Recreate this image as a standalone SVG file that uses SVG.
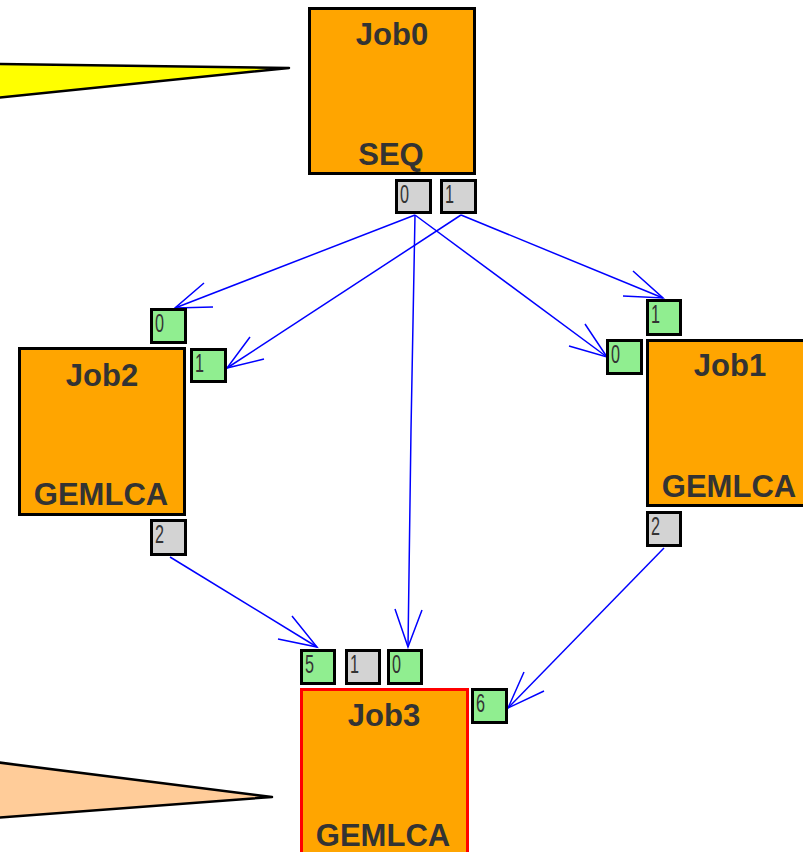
<svg xmlns="http://www.w3.org/2000/svg" width="803" height="852" viewBox="0 0 803 852">
<style>
.job{fill:#FFA500;stroke:#000;stroke-width:3}
.job3{fill:#FFA500;stroke:#FF0000;stroke-width:3}
.jt{font-family:"Liberation Sans",Arial,sans-serif;font-weight:bold;font-size:31px;fill:#333;text-anchor:middle}
.pg{fill:#D3D3D3;stroke:#000;stroke-width:3}
.pn{fill:#90EE90;stroke:#000;stroke-width:3}
.pt{font-family:"Liberation Sans",Arial,sans-serif;font-size:25px;fill:#333}
.c line,.c polyline{stroke:#0000FF;stroke-width:1.5;fill:none}
</style>
<polygon points="-5,64 289,68 -5,98" fill="#FFFF00" stroke="#000" stroke-width="2.5" stroke-linejoin="round"/>
<polygon points="-5,762 272,797 -5,818" fill="#FFCC99" stroke="#000" stroke-width="2.5" stroke-linejoin="round"/>
<g class="c" id="connectors">
<line x1="415" y1="215" x2="175" y2="308"/><polyline points="204,283 175,308 213,307"/>
<line x1="461" y1="215" x2="227" y2="368"/><polyline points="250,337 227,368 264,359"/>
<line x1="415" y1="215" x2="607" y2="357"/><polyline points="585,324 607,357 569,346"/>
<line x1="461" y1="215" x2="663" y2="298"/><polyline points="633,271 663,298 623,296"/>
<polyline points="415,215 411,430 408,647"/><polyline points="395,609 408,647 422,610"/>
<line x1="170" y1="557" x2="317" y2="647"/><polyline points="292,616 317,647 278,639"/>
<line x1="664" y1="548" x2="508" y2="708"/><polyline points="544,691 508,708 524,672"/>
</g>
<g id="job0">
<rect class="job" x="309.5" y="8.5" width="165" height="165"/>
<text class="jt" x="392" y="45">Job0</text>
<text class="jt" x="391" y="165">SEQ</text>
<rect class="pg" x="396.5" y="180.5" width="34" height="32"/><text class="pt" x="400" y="203" textLength="9" lengthAdjust="spacingAndGlyphs">0</text>
<rect class="pg" x="441.5" y="180.5" width="34" height="32"/><text class="pt" x="445" y="203" textLength="9" lengthAdjust="spacingAndGlyphs">1</text>
</g>
<g id="job2">
<rect class="job" x="19.5" y="348.5" width="165" height="166"/>
<text class="jt" x="102" y="386">Job2</text>
<text class="jt" x="101" y="505">GEMLCA</text>
<rect class="pn" x="151.5" y="309.5" width="34" height="33"/><text class="pt" x="155" y="332" textLength="9" lengthAdjust="spacingAndGlyphs">0</text>
<rect class="pn" x="191.5" y="349.5" width="34" height="32"/><text class="pt" x="195" y="372" textLength="9" lengthAdjust="spacingAndGlyphs">1</text>
<rect class="pg" x="151.5" y="520.5" width="34" height="34"/><text class="pt" x="155" y="543" textLength="9" lengthAdjust="spacingAndGlyphs">2</text>
</g>
<g id="job1">
<rect class="job" x="647.5" y="340.5" width="165" height="165"/>
<text class="jt" x="730" y="376">Job1</text>
<text class="jt" x="729" y="497">GEMLCA</text>
<rect class="pn" x="647.5" y="300.5" width="33" height="34"/><text class="pt" x="651" y="323" textLength="9" lengthAdjust="spacingAndGlyphs">1</text>
<rect class="pn" x="607.5" y="340.5" width="34" height="33"/><text class="pt" x="611" y="363" textLength="9" lengthAdjust="spacingAndGlyphs">0</text>
<rect class="pg" x="647.5" y="512.5" width="33" height="33"/><text class="pt" x="651" y="535" textLength="9" lengthAdjust="spacingAndGlyphs">2</text>
</g>
<g id="job3">
<rect class="job3" x="301.5" y="689.5" width="166" height="170"/>
<text class="jt" x="384" y="726">Job3</text>
<text class="jt" x="383" y="846">GEMLCA</text>
<rect class="pn" x="301.5" y="650.5" width="33" height="33"/><text class="pt" x="305" y="673" textLength="9" lengthAdjust="spacingAndGlyphs">5</text>
<rect class="pg" x="346.5" y="650.5" width="33" height="33"/><text class="pt" x="350" y="673" textLength="9" lengthAdjust="spacingAndGlyphs">1</text>
<rect class="pn" x="388.5" y="650.5" width="33" height="33"/><text class="pt" x="392" y="673" textLength="9" lengthAdjust="spacingAndGlyphs">0</text>
<rect class="pn" x="472.5" y="689.5" width="34" height="33"/><text class="pt" x="476" y="712" textLength="9" lengthAdjust="spacingAndGlyphs">6</text>
</g>
</svg>
